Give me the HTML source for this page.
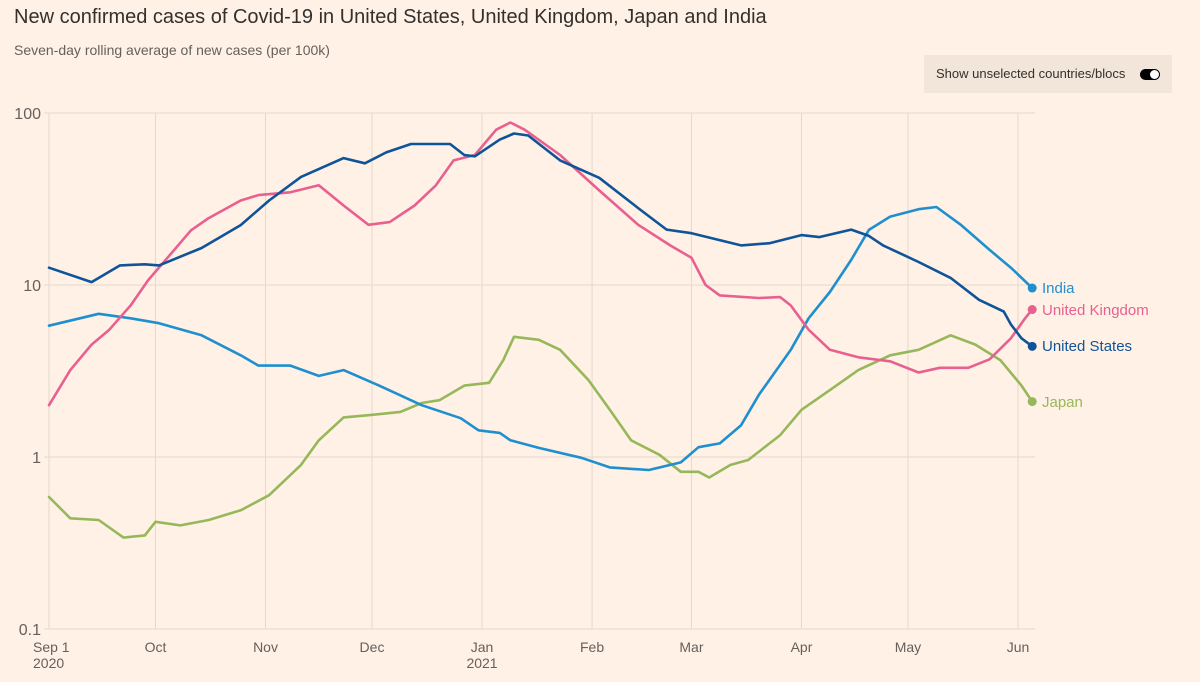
<!DOCTYPE html>
<html><head><meta charset="utf-8"><style>
body{margin:0;background:#fff1e5;font-family:"Liberation Sans",sans-serif;}
#wrap{position:relative;width:1200px;height:682px;overflow:hidden;background:#fff1e5}
h1{position:absolute;left:14px;top:6px;margin:0;font-size:20px;font-weight:normal;color:#33302e}
.sub{position:absolute;left:14px;top:42px;font-size:14px;color:#66605c}
.toggle{position:absolute;left:924px;top:55px;width:248px;height:38px;background:#f2e5da;font-size:13px;color:#33302e;line-height:38px;padding-left:12px;box-sizing:border-box}
.sw{position:absolute;right:12px;top:14px;width:20px;height:11px;border-radius:6px;background:#000}
.sw:after{content:"";position:absolute;right:1px;top:1px;width:9px;height:9px;border-radius:50%;background:#fff}
svg{position:absolute;left:0;top:0}
</style></head><body>
<div id="wrap">
<h1>New confirmed cases of Covid-19 in United States, United Kingdom, Japan and India</h1>
<div class="sub">Seven-day rolling average of new cases (per 100k)</div>
<div class="toggle">Show unselected countries/blocs<span class="sw"></span></div>
<svg id="chart" width="1200" height="682"></svg>
</div>
<script>
const yTicks=[100,10,1,0.1];
const yTickLabels=["100","10","1","0.1"];
const monthDays=[0,30,61,91,122,153,181,212,242,273];
const monthLabels=["Sep 1","Oct","Nov","Dec","Jan","Feb","Mar","Apr","May","Jun"];
const yearLabels={0:"2020",122:"2021"};
const usDays=[0,12,20,27,31,43,54,62,71,83,89,95,102,113,117,120,127,131,135,144,155,166,174,181,195,203,212,217,226,231,235,245,254,262,269,271,274,277];
const usVals=[12.6,10.4,13,13.2,13,16.4,22.3,31,42.5,54.7,51,59,66,66,57,56,70,76,74,53,42,28,21,20,17,17.5,19.5,19,21,19.3,17,13.6,11,8.2,7,5.9,4.9,4.4];
const ukDays=[0,6,12,17,23,28,34,40,45,54,59,68,76,83,90,96,103,109,114,120,126,130,134,144,155,166,175,181,185,189,200,206,209,214,220,228,237,245,251,259,265,271,275,277];
const ukVals=[2.0,3.2,4.5,5.5,7.6,10.7,14.9,20.8,24.5,31,33.3,34.6,38,29,22.4,23.2,29,38,53,57,80,88,80,57,35.5,22.4,17,14.4,10,8.7,8.4,8.5,7.6,5.5,4.2,3.8,3.6,3.1,3.3,3.3,3.7,4.9,6.4,7.2];
const inDays=[0,14,23,31,43,54,59,68,76,83,93,105,116,121,127,130,138,150,158,169,178,183,189,195,200,209,214,220,226,231,237,245,250,257,265,271,277];
const inVals=[5.8,6.8,6.4,6.0,5.1,3.9,3.4,3.4,2.96,3.2,2.6,2.0,1.68,1.43,1.38,1.25,1.13,0.99,0.87,0.84,0.93,1.14,1.2,1.53,2.3,4.2,6.4,9.1,14,20.9,25,27.6,28.4,22.3,16,12.6,9.6];
const jpDays=[0,6,14,21,27,30,37,45,54,62,71,76,83,90,99,105,110,117,124,128,131,138,144,152,158,164,172,178,183,186,192,197,206,212,220,228,237,245,254,261,268,274,277];
const jpVals=[0.585,0.44,0.43,0.34,0.35,0.42,0.40,0.43,0.49,0.60,0.90,1.25,1.7,1.75,1.83,2.06,2.14,2.6,2.7,3.66,5.0,4.8,4.2,2.8,1.88,1.25,1.03,0.82,0.82,0.76,0.9,0.96,1.34,1.88,2.45,3.2,3.9,4.2,5.1,4.5,3.66,2.6,2.1];
const series=[
 {name:"japan",label:"Japan",days:jpDays,vals:jpVals,color:"#96b85a"},
 {name:"india",label:"India",days:inDays,vals:inVals,color:"#1f8fcf"},
 {name:"united-kingdom",label:"United Kingdom",days:ukDays,vals:ukVals,color:"#e8608f"},
 {name:"united-states",label:"United States",days:usDays,vals:usVals,color:"#0f5499"}];
const X0=49,X1=1018,Y100=113,DEC=172;
const x=d=>X0+d*(X1-X0)/273;
const y=v=>Y100+(2-Math.log10(v))*DEC;
const svg=document.getElementById('chart');const NS="http://www.w3.org/2000/svg";
function mk(t,a){const e=document.createElementNS(NS,t);for(const k in a)e.setAttribute(k,a[k]);svg.appendChild(e);return e;}
yTicks.forEach((v,i)=>{
 const l=mk('line',{x1:44,x2:1035,y1:y(v),y2:y(v),stroke:'#e5d8cd','stroke-width':1});
 
 
 const t=mk('text',{x:41,y:y(v)+6,'text-anchor':'end','font-size':16,fill:'#66605c','font-family':'Liberation Sans, sans-serif'});
 t.textContent=yTickLabels[i];
 
 
});
monthDays.forEach((d,i)=>{
 const l=mk('line',{x1:x(d),x2:x(d),y1:Y100,y2:y(0.1),stroke:'#e5d8cd','stroke-width':1});
 
 
 const t=mk('text',{x:i==0?33:x(d),y:652,'text-anchor':i==0?'start':'middle','font-size':14,fill:'#66605c','font-family':'Liberation Sans, sans-serif'});
 t.textContent=monthLabels[i];
 
 
 if(yearLabels[d]){const yt=mk('text',{x:i==0?33:x(d),y:668,'text-anchor':i==0?'start':'middle','font-size':14,fill:'#66605c','font-family':'Liberation Sans, sans-serif'});
 yt.textContent=yearLabels[d];
 
 }
});
const labelY={"india":288,"united-kingdom":310,"united-states":346,"japan":402};
series.forEach(s=>{
 const pts=s.days.map((d,i)=>x(d).toFixed(1)+','+y(s.vals[i]).toFixed(1)).join(' ');
 const p=mk('polyline',{points:pts,fill:'none',stroke:s.color,'stroke-width':2.6,'stroke-linejoin':'round','stroke-linecap':'round'});
 
 
 const n=s.days.length-1;
 const c=mk('circle',{cx:x(s.days[n]),cy:y(s.vals[n]),r:4.5,fill:s.color});
 
 
 const t=mk('text',{x:1042,y:labelY[s.name]+5,'font-size':15,fill:s.color,'font-family':'Liberation Sans, sans-serif'});
 t.textContent=s.label;
 
 
});
</script>
</body></html>
